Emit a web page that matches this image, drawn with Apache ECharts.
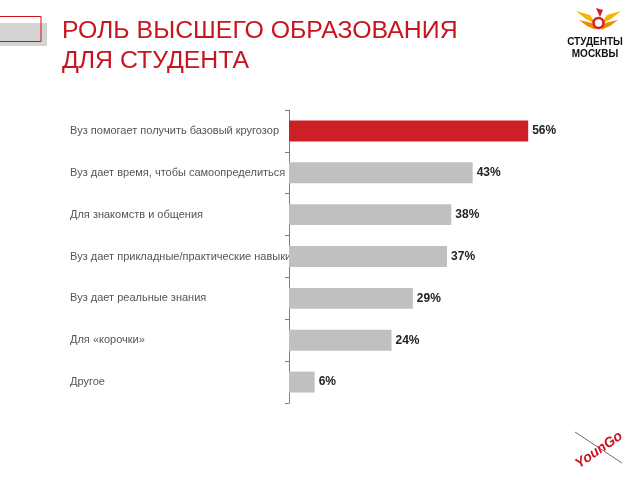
<!DOCTYPE html>
<html>
<head>
<meta charset="utf-8">
<script src="https://cdn.jsdelivr.net/npm/echarts@6/dist/echarts.min.js"></script>
<style>html,body{margin:0;padding:0;background:#fff}#c{width:640px;height:480px}</style>
</head>
<body>
<div id="c"></div>
<script>
var titleLines = ['РОЛЬ ВЫСШЕГО ОБРАЗОВАНИЯ', 'ДЛЯ СТУДЕНТА'];
var categories = [
  'Вуз помогает получить базовый кругозор',
  'Вуз дает время, чтобы самоопределиться',
  'Для знакомств и общения',
  'Вуз дает прикладные/практические навыки',
  'Вуз дает реальные знания',
  'Для «корочки»',
  'Другое'
];
var values = [56, 43, 38, 37, 29, 24, 6];
var highlightIndex = 0;

var titleFont = '23px "Liberation Sans", Arial, sans-serif';
var chart = echarts.init(document.getElementById('c'), null, {renderer: 'canvas'});
chart.setOption({
  backgroundColor: '#ffffff',
  animation: false,
  grid: {left: 289, top: 110, width: 299, height: 293},
  xAxis: {type: 'value', min: 0, max: 70, show: false},
  yAxis: {
    type: 'category', data: categories, inverse: true,
    axisLine: {lineStyle: {color: '#7f7f7f', width: 1}},
    axisTick: {show: true, length: 4, lineStyle: {color: '#7f7f7f'}},
    axisLabel: {align: 'left', margin: 219, color: '#555555', fontSize: 11, fontFamily: 'Liberation Sans'}
  },
  series: [{
    type: 'bar',
    barWidth: '50%',
    data: values.map(function (v, i) {
      return {value: v, itemStyle: {color: i === highlightIndex ? '#cc1f26' : '#c0c0c0'}};
    }),
    label: {
      show: true, position: 'right', distance: 4,
      formatter: '{c}%', color: '#222', fontSize: 12, fontWeight: 'bold', fontFamily: 'Liberation Sans'
    }
  }],
  graphic: [
    {type: 'rect', shape: {x: 0, y: 23, width: 47, height: 23}, style: {fill: '#d4d4d4'}},
    {type: 'rect', shape: {x: -2, y: 16.5, width: 43, height: 25}, style: {fill: null, stroke: '#c8141e', lineWidth: 1}},
    // Title
    {type: 'text', x: 62, y: 31.5, scaleX: 1.08, style: {text: titleLines[0], x: 0, y: 0, textAlign: 'left', textVerticalAlign: 'middle', font: titleFont, fill: '#c8141e'}},
    {type: 'text', x: 62, y: 62, scaleX: 1.08, style: {text: titleLines[1], x: 0, y: 0, textAlign: 'left', textVerticalAlign: 'middle', font: titleFont, fill: '#c8141e'}},
    // Logo bird
    {type: 'polygon', shape: {points: [[576,11],[590,15],[596,24],[586,19]]}, style: {fill: '#f5b400'}},
    {type: 'polygon', shape: {points: [[579,20],[592,23],[596,30],[587,26]]}, style: {fill: '#f08a00'}},
    {type: 'polygon', shape: {points: [[621,11],[607,15],[601,24],[611,19]]}, style: {fill: '#f5b400'}},
    {type: 'polygon', shape: {points: [[618,20],[605,23],[601,30],[610,26]]}, style: {fill: '#f08a00'}},
    {type: 'circle', shape: {cx: 598.5, cy: 23, r: 5}, style: {fill: null, stroke: '#d0202a', lineWidth: 2.5}},
    {type: 'polygon', shape: {points: [[596,8],[603,10],[600,17]]}, style: {fill: '#d0202a'}},
    {type: 'text', style: {text: 'СТУДЕНТЫ', x: 595, y: 42.5, textAlign: 'center', textVerticalAlign: 'middle', font: 'bold 10px "Liberation Sans Narrow", sans-serif', fill: '#111'}},
    {type: 'text', style: {text: 'МОСКВЫ', x: 595, y: 54.5, textAlign: 'center', textVerticalAlign: 'middle', font: 'bold 10px "Liberation Sans Narrow", sans-serif', fill: '#111'}},
    // YounGo
    {type: 'line', shape: {x1: 575, y1: 432, x2: 622, y2: 463}, style: {stroke: '#7a6a6a', lineWidth: 1}},
    {type: 'text', x: 599, y: 450, rotation: 0.6, style: {text: 'YounGo', x: 0, y: 0, textAlign: 'center', textVerticalAlign: 'middle', font: 'italic bold 14px "Liberation Sans Narrow", sans-serif', fill: '#c8141e'}}
  ]
});
</script>
</body>
</html>
